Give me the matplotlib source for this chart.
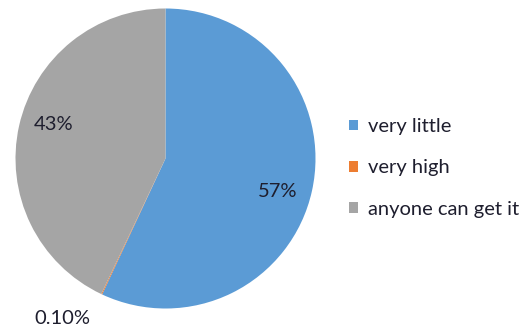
import matplotlib
matplotlib.use('Agg')
import matplotlib.pyplot as plt
import numpy as np

categories = ['very little', 'very high', 'anyone can get it']
shares = [57, 0.1, 43]
pct_labels = ['57%', '0.10%', '43%']
colors = ['#5B9BD5', '#ED7D31', '#A5A5A5']

plt.rcParams['font.family'] = ['Lato', 'DejaVu Sans']
text_color = '#1e1e2e'

fig = plt.figure(figsize=(5.31, 3.34), dpi=100)
ax = fig.add_axes([15.5 / 531, (334 - 158.5 - 150) / 334, 300 / 531, 300 / 334])

wedges, _ = ax.pie(shares, colors=colors, startangle=90, counterclock=False,
                   wedgeprops=dict(linewidth=0))
ax.set_xlim(-1, 1)
ax.set_ylim(-1, 1)
ax.set_aspect('equal')

# percentage labels: big slices inside, tiny slice pushed out below-left
for w, lab in zip(wedges, pct_labels):
    mid = (w.theta1 + w.theta2) / 2
    if w.theta2 - w.theta1 > 5:
        mid = np.deg2rad(mid - 4 if mid < 0 else mid - 3)
        ax.text(0.78 * np.cos(mid), 0.78 * np.sin(mid), lab, ha='center', va='center',
                fontsize=14.5, color=text_color)
    else:
        mid = np.deg2rad(mid)
        ax.text(1.18 * np.cos(mid), 1.18 * np.sin(mid), lab, ha='right', va='center',
                fontsize=14.5, color=text_color, clip_on=False)

fig.legend(wedges, categories, loc='center left', bbox_to_anchor=(331 / 531, 1 - 168 / 334),
           frameon=False, fontsize=14.5, labelcolor=text_color,
           handlelength=0.45, handleheight=0.45, handletextpad=0.5, labelspacing=1.21)

fig.savefig('out.png', dpi=100)
